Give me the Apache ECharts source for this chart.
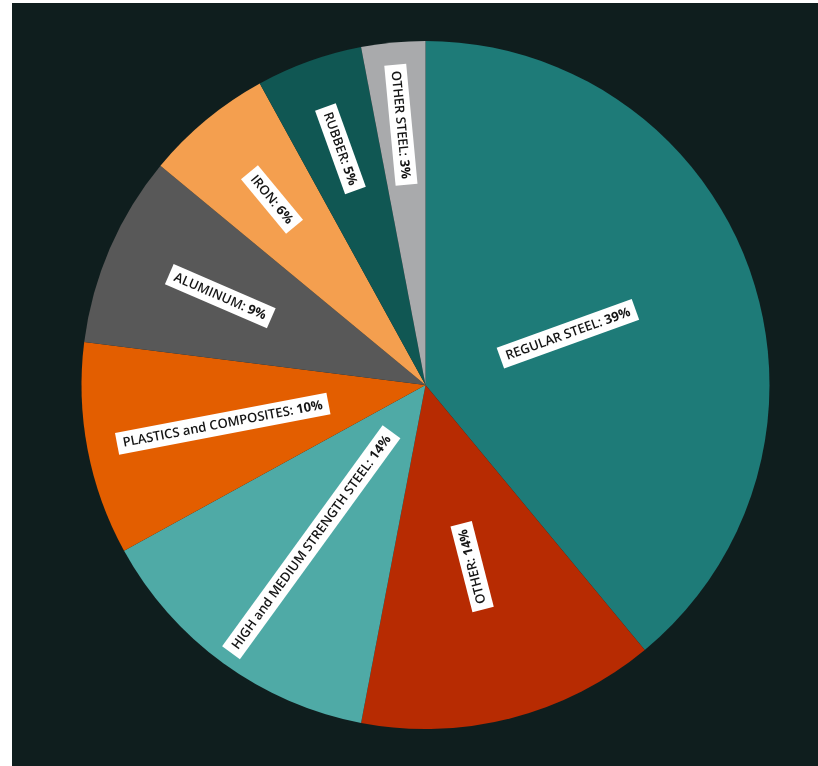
<!DOCTYPE html>
<html><head><meta charset="utf-8">
<script src="https://cdn.jsdelivr.net/npm/echarts@6/dist/echarts.min.js"></script>
<style>
html,body{margin:0;padding:0;background:#ffffff;width:818px;height:766px;overflow:hidden;}
#c{position:absolute;left:12px;top:3px;width:806px;height:763px;background:#0f1e1e;}
</style>
</head><body><div id="c"></div>
<script>
const categories = ['REGULAR STEEL', 'OTHER', 'HIGH and MEDIUM STRENGTH STEEL', 'PLASTICS and COMPOSITES', 'ALUMINUM', 'IRON', 'RUBBER', 'OTHER STEEL'];
const shares = [39, 14, 14, 10, 9, 6, 5, 3];
const colors = ['#1e7b78', '#b72b02', '#4faaa6', '#e35e00', '#585858', '#f49f4f', '#105753', '#a9aaac'];
const labelRadiusFrac = [0.44, 0.545, 0.565, 0.60, 0.65, 0.70, 0.73, 0.76];

const cx = 413.5, cy = 382, R = 344;
const chart = echarts.init(document.getElementById('c'), null, {renderer: 'canvas'});
const data = categories.map((n, i) => ({name: n, value: shares[i], itemStyle: {color: colors[i]}}));
chart.setOption({
  backgroundColor: '#0f1e1e',
  animation: false,
  series: [{
    type: 'pie',
    center: [cx, cy],
    radius: [0, R],
    startAngle: 90,
    clockwise: true,
    avoidLabelOverlap: false,
    emphasis: {disabled: true},
    itemStyle: {borderWidth: 0},
    label: {
      show: true,
      position: 'inside',
      rotate: 'radial',
      backgroundColor: '#ffffff',
      padding: [5, 6, 4, 6],
      formatter: p => '{n|' + p.name + ': }{v|' + p.value + '%}',
      rich: {
        n: {fontFamily: 'Open Sans', fontSize: 13, fontWeight: 600, color: '#151515'},
        v: {fontFamily: 'Open Sans', fontSize: 13, fontWeight: 700, color: '#151515'}
      }
    },
    labelLine: {show: false},
    labelLayout: function (p) {
      const r = p.labelRect;
      const mx = r.x + r.width / 2, my = r.y + r.height / 2;
      const th = Math.atan2(my - cy, mx - cx);
      const d = labelRadiusFrac[p.dataIndex] * R;
      // clockwise angle from 12 o'clock, degrees
      let a = Math.atan2(mx - cx, -(my - cy)) * 180 / Math.PI;
      if (a < 0) a += 360;
      const dir = a > 90 ? a + 90 : a - 90; // screen direction, clockwise
      return {x: cx + d * Math.cos(th), y: cy + d * Math.sin(th), rotate: -dir};
    },
    data: data
  }]
});
</script></body></html>
